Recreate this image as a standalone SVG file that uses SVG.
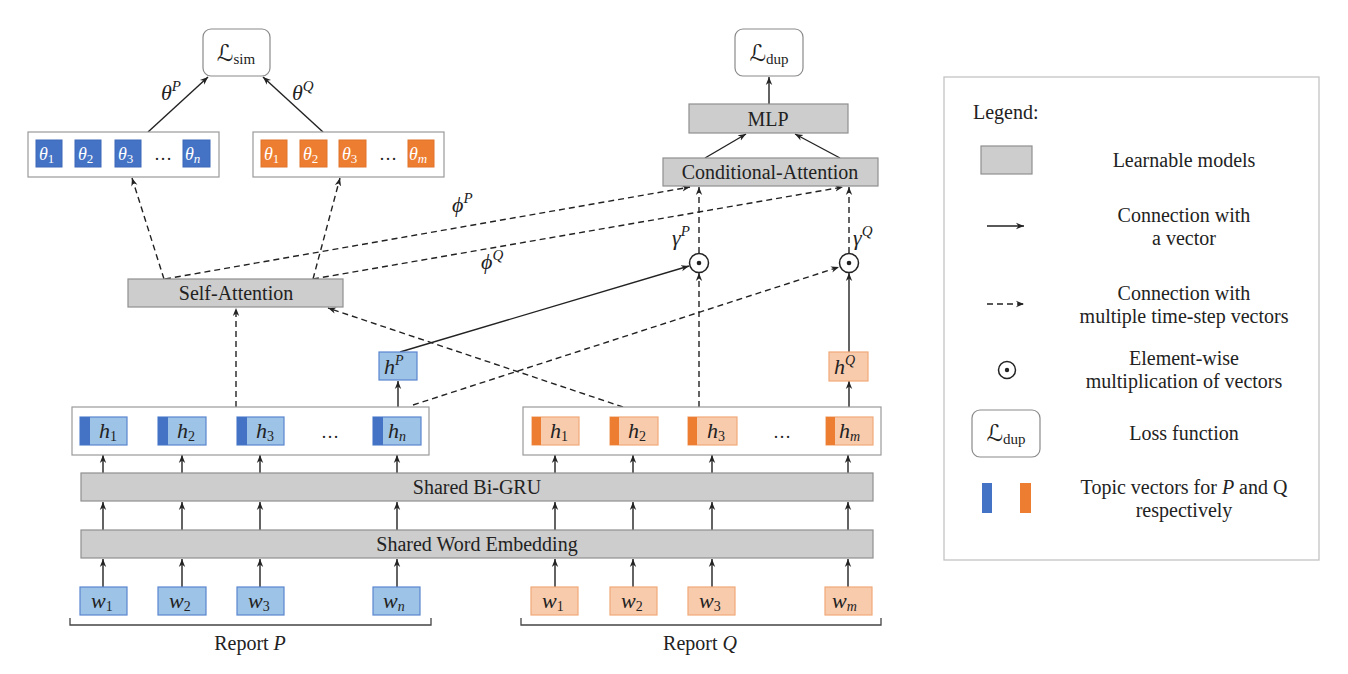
<svg xmlns="http://www.w3.org/2000/svg" width="1348" height="674" viewBox="0 0 1348 674">
<defs>
<marker id="arr" viewBox="0 0 10 10" refX="10" refY="5" markerWidth="8" markerHeight="8" markerUnits="userSpaceOnUse" orient="auto">
<path d="M0,1 L10,5 L0,9 L3,5 z" fill="#222"/>
</marker>
</defs>
<style>
text{font-family:"Liberation Serif","Times New Roman",serif;fill:#222;}
.t{font-size:20px;}
.c{text-anchor:middle;}
.m{font-style:italic;}
.cal{font-family:"DejaVu Serif","DejaVu Sans",serif;font-style:normal;}
.gray{fill:#cdcdcd;stroke:#8f8f8f;stroke-width:1.2;}
.row{fill:#fff;stroke:#9a9a9a;stroke-width:1.2;}
.loss{fill:#fff;stroke:#8a8a8a;stroke-width:1.2;}
.tb{fill:#4472c4;stroke:#3d68b8;}
.to{fill:#ed7d31;stroke:#e0742c;}
.lb{fill:#9dc3e6;stroke:#5a86cf;stroke-width:1.2;}
.lo{fill:#f8cbad;stroke:#f1a878;stroke-width:1.2;}
.sb{fill:#4472c4;}
.so{fill:#ed7d31;}
.ln{stroke:#222;stroke-width:1.4;fill:none;}
.ds{stroke:#222;stroke-width:1.4;fill:none;stroke-dasharray:6 4;}
.odot{fill:#fff;stroke:#222;stroke-width:1.5;}
.wh{fill:#fff;}
</style>

<!-- connectors -->
<g id="connectors">
<line class="ln" x1="148" y1="132" x2="208" y2="77" marker-end="url(#arr)"/>
<line class="ln" x1="323" y1="132" x2="263" y2="77" marker-end="url(#arr)"/>
<line class="ln" x1="769" y1="104" x2="769" y2="77" marker-end="url(#arr)"/>
<line class="ln" x1="705" y1="158" x2="746" y2="134" marker-end="url(#arr)"/>
<line class="ln" x1="840" y1="158" x2="795" y2="134" marker-end="url(#arr)"/>
<line class="ds" x1="164" y1="279" x2="132" y2="178" marker-end="url(#arr)"/>
<line class="ds" x1="313" y1="279" x2="340" y2="178" marker-end="url(#arr)"/>
<line class="ds" x1="165" y1="279" x2="690" y2="187" marker-end="url(#arr)"/>
<line class="ds" x1="313" y1="279" x2="843" y2="187" marker-end="url(#arr)"/>
<line class="ds" x1="699" y1="253" x2="699" y2="187" marker-end="url(#arr)"/>
<line class="ds" x1="849" y1="253" x2="849" y2="187" marker-end="url(#arr)"/>
<line class="ds" x1="699" y1="407" x2="699" y2="273" marker-end="url(#arr)"/>
<line class="ln" x1="849" y1="352" x2="849" y2="273" marker-end="url(#arr)"/>
<line class="ln" x1="400" y1="352" x2="689" y2="266" marker-end="url(#arr)"/>
<line class="ds" x1="413" y1="405" x2="839" y2="267" marker-end="url(#arr)"/>
<line class="ds" x1="623" y1="407" x2="328" y2="308" marker-end="url(#arr)"/>
<line class="ds" x1="236" y1="407" x2="236" y2="308" marker-end="url(#arr)"/>
<line class="ln" x1="398" y1="407" x2="398" y2="381" marker-end="url(#arr)"/>
<line class="ln" x1="849" y1="407" x2="849" y2="381" marker-end="url(#arr)"/>
<line class="ln" x1="103" y1="473" x2="103" y2="455" marker-end="url(#arr)"/>
<line class="ln" x1="182" y1="473" x2="182" y2="455" marker-end="url(#arr)"/>
<line class="ln" x1="260" y1="473" x2="260" y2="455" marker-end="url(#arr)"/>
<line class="ln" x1="397" y1="473" x2="397" y2="455" marker-end="url(#arr)"/>
<line class="ln" x1="555" y1="473" x2="555" y2="455" marker-end="url(#arr)"/>
<line class="ln" x1="633" y1="473" x2="633" y2="455" marker-end="url(#arr)"/>
<line class="ln" x1="712" y1="473" x2="712" y2="455" marker-end="url(#arr)"/>
<line class="ln" x1="848" y1="473" x2="848" y2="455" marker-end="url(#arr)"/>
<line class="ln" x1="103" y1="530" x2="103" y2="502" marker-end="url(#arr)"/>
<line class="ln" x1="182" y1="530" x2="182" y2="502" marker-end="url(#arr)"/>
<line class="ln" x1="260" y1="530" x2="260" y2="502" marker-end="url(#arr)"/>
<line class="ln" x1="397" y1="530" x2="397" y2="502" marker-end="url(#arr)"/>
<line class="ln" x1="555" y1="530" x2="555" y2="502" marker-end="url(#arr)"/>
<line class="ln" x1="633" y1="530" x2="633" y2="502" marker-end="url(#arr)"/>
<line class="ln" x1="712" y1="530" x2="712" y2="502" marker-end="url(#arr)"/>
<line class="ln" x1="848" y1="530" x2="848" y2="502" marker-end="url(#arr)"/>
<line class="ln" x1="103" y1="587" x2="103" y2="559" marker-end="url(#arr)"/>
<line class="ln" x1="182" y1="587" x2="182" y2="559" marker-end="url(#arr)"/>
<line class="ln" x1="260" y1="587" x2="260" y2="559" marker-end="url(#arr)"/>
<line class="ln" x1="397" y1="587" x2="397" y2="559" marker-end="url(#arr)"/>
<line class="ln" x1="555" y1="587" x2="555" y2="559" marker-end="url(#arr)"/>
<line class="ln" x1="633" y1="587" x2="633" y2="559" marker-end="url(#arr)"/>
<line class="ln" x1="712" y1="587" x2="712" y2="559" marker-end="url(#arr)"/>
<line class="ln" x1="848" y1="587" x2="848" y2="559" marker-end="url(#arr)"/>
</g>

<!-- connector labels -->
<g id="labels">
<text class="m" x="161" y="100" font-size="22">θ<tspan font-size="15" dy="-9">P</tspan></text>
<text class="m" x="292" y="100" font-size="22">θ<tspan font-size="15" dy="-9">Q</tspan></text>
<text class="m" x="452" y="212" font-size="22">ϕ<tspan font-size="15" dy="-9">P</tspan></text>
<text class="m" x="481" y="269" font-size="22">ϕ<tspan font-size="15" dy="-9">Q</tspan></text>
<text class="m" x="672" y="245" font-size="22">γ<tspan font-size="15" dy="-9">P</tspan></text>
<text class="m" x="853" y="245" font-size="22">γ<tspan font-size="15" dy="-9">Q</tspan></text>
</g>

<g id="Lsim">
<rect class="loss" x="203" y="29" width="67" height="47" rx="8"/>
<text x="236" y="61" class="c"><tspan class="cal" font-size="23">ℒ</tspan><tspan font-size="15" dy="3">sim</tspan></text>
</g>
<g id="Ldup">
<rect class="loss" x="735" y="29" width="68" height="47" rx="8"/>
<text x="769" y="61" class="c"><tspan class="cal" font-size="23">ℒ</tspan><tspan font-size="15" dy="3">dup</tspan></text>
</g>

<g id="thetaP">
<rect class="row" x="28" y="132" width="191" height="45"/>
<rect class="tb" x="36" y="140" width="26" height="27"/>
<rect class="tb" x="75" y="140" width="26" height="27"/>
<rect class="tb" x="115" y="140" width="26" height="27"/>
<rect class="tb" x="183" y="140" width="27" height="27"/>
<text class="m wh" x="39" y="160" font-size="18">θ<tspan font-size="13" dy="3" font-style="normal">1</tspan></text>
<text class="m wh" x="78" y="160" font-size="18">θ<tspan font-size="13" dy="3" font-style="normal">2</tspan></text>
<text class="m wh" x="118" y="160" font-size="18">θ<tspan font-size="13" dy="3" font-style="normal">3</tspan></text>
<text x="163" y="160" class="c" font-size="18">…</text>
<text class="m wh" x="185" y="160" font-size="18">θ<tspan font-size="13" dy="3">n</tspan></text>
</g>
<g id="thetaQ">
<rect class="row" x="253" y="132" width="191" height="45"/>
<rect class="to" x="261" y="140" width="26" height="27"/>
<rect class="to" x="300" y="140" width="27" height="27"/>
<rect class="to" x="339" y="140" width="27" height="27"/>
<rect class="to" x="408" y="140" width="26" height="27"/>
<text class="m wh" x="264" y="160" font-size="18">θ<tspan font-size="13" dy="3" font-style="normal">1</tspan></text>
<text class="m wh" x="303" y="160" font-size="18">θ<tspan font-size="13" dy="3" font-style="normal">2</tspan></text>
<text class="m wh" x="342" y="160" font-size="18">θ<tspan font-size="13" dy="3" font-style="normal">3</tspan></text>
<text x="388" y="160" class="c" font-size="18">…</text>
<text class="m wh" x="409" y="160" font-size="18">θ<tspan font-size="13" dy="3">m</tspan></text>
</g>

<g id="MLP">
<rect class="gray" x="689" y="104" width="159" height="29"/>
<text class="t c" x="768" y="126">MLP</text>
</g>
<g id="CondAttention">
<rect class="gray" x="663" y="158" width="215" height="28"/>
<text class="t c" x="770" y="179">Conditional-Attention</text>
</g>
<g id="SelfAttention">
<rect class="gray" x="128" y="279" width="215" height="28"/>
<text class="t c" x="236" y="300">Self-Attention</text>
</g>

<g id="odotP">
<circle class="odot" cx="699" cy="263" r="9.5"/>
<circle cx="699" cy="263" r="2.3" fill="#222"/>
</g>
<g id="odotQ">
<circle class="odot" cx="849" cy="263" r="9.5"/>
<circle cx="849" cy="263" r="2.3" fill="#222"/>
</g>

<g id="hP">
<rect class="lb" x="379" y="352" width="38" height="28"/>
<text class="m" x="384" y="374" font-size="22">h<tspan font-size="14" dy="-9">P</tspan></text>
</g>
<g id="hQ">
<rect class="lo" x="829" y="352" width="39" height="29"/>
<text class="m" x="834" y="374" font-size="22">h<tspan font-size="14" dy="-9">Q</tspan></text>
</g>

<g id="hRowP">
<rect class="row" x="72" y="407" width="357" height="48"/>
<rect class="lb" x="80" y="417" width="47" height="28"/><rect class="sb" x="80" y="417" width="10" height="28"/>
<rect class="lb" x="158" y="417" width="48" height="28"/><rect class="sb" x="158" y="417" width="10" height="28"/>
<rect class="lb" x="237" y="417" width="47" height="28"/><rect class="sb" x="237" y="417" width="10" height="28"/>
<rect class="lb" x="373" y="417" width="48" height="28"/><rect class="sb" x="373" y="417" width="10" height="28"/>
<text class="m" x="99" y="438" font-size="22">h<tspan font-size="14" dy="3" font-style="normal">1</tspan></text>
<text class="m" x="177" y="438" font-size="22">h<tspan font-size="14" dy="3" font-style="normal">2</tspan></text>
<text class="m" x="256" y="438" font-size="22">h<tspan font-size="14" dy="3" font-style="normal">3</tspan></text>
<text x="330" y="438" class="c" font-size="18">…</text>
<text class="m" x="388" y="438" font-size="22">h<tspan font-size="14" dy="3">n</tspan></text>
</g>
<g id="hRowQ">
<rect class="row" x="523" y="407" width="358" height="48"/>
<rect class="lo" x="532" y="417" width="47" height="28"/><rect class="so" x="532" y="417" width="9" height="28"/>
<rect class="lo" x="610" y="417" width="48" height="28"/><rect class="so" x="610" y="417" width="9" height="28"/>
<rect class="lo" x="688" y="417" width="49" height="28"/><rect class="so" x="688" y="417" width="9" height="28"/>
<rect class="lo" x="826" y="417" width="47" height="28"/><rect class="so" x="826" y="417" width="9" height="28"/>
<text class="m" x="550" y="438" font-size="22">h<tspan font-size="14" dy="3" font-style="normal">1</tspan></text>
<text class="m" x="628" y="438" font-size="22">h<tspan font-size="14" dy="3" font-style="normal">2</tspan></text>
<text class="m" x="707" y="438" font-size="22">h<tspan font-size="14" dy="3" font-style="normal">3</tspan></text>
<text x="782" y="438" class="c" font-size="18">…</text>
<text class="m" x="839" y="438" font-size="22">h<tspan font-size="14" dy="3">m</tspan></text>
</g>

<g id="BiGRU">
<rect class="gray" x="81" y="473" width="792" height="28"/>
<text class="t c" x="477" y="494">Shared Bi-GRU</text>
</g>
<g id="WordEmbedding">
<rect class="gray" x="81" y="530" width="792" height="28"/>
<text class="t c" x="477" y="551">Shared Word Embedding</text>
</g>

<g id="wP">
<rect class="lb" x="80" y="587" width="47" height="28"/>
<rect class="lb" x="158" y="587" width="48" height="28"/>
<rect class="lb" x="237" y="587" width="47" height="28"/>
<rect class="lb" x="373" y="587" width="47" height="28"/>
<text class="m" x="91" y="608" font-size="22">w<tspan font-size="14" dy="3" font-style="normal">1</tspan></text>
<text class="m" x="169" y="608" font-size="22">w<tspan font-size="14" dy="3" font-style="normal">2</tspan></text>
<text class="m" x="248" y="608" font-size="22">w<tspan font-size="14" dy="3" font-style="normal">3</tspan></text>
<text class="m" x="383" y="608" font-size="22">w<tspan font-size="14" dy="3">n</tspan></text>
</g>
<g id="wQ">
<rect class="lo" x="531" y="587" width="47" height="28"/>
<rect class="lo" x="610" y="587" width="47" height="28"/>
<rect class="lo" x="688" y="587" width="47" height="28"/>
<rect class="lo" x="825" y="587" width="47" height="28"/>
<text class="m" x="542" y="608" font-size="22">w<tspan font-size="14" dy="3" font-style="normal">1</tspan></text>
<text class="m" x="621" y="608" font-size="22">w<tspan font-size="14" dy="3" font-style="normal">2</tspan></text>
<text class="m" x="699" y="608" font-size="22">w<tspan font-size="14" dy="3" font-style="normal">3</tspan></text>
<text class="m" x="832" y="608" font-size="22">w<tspan font-size="14" dy="3">m</tspan></text>
</g>

<g id="reportP">
<path d="M70,618 L70,625 L431,625 L431,618" fill="none" stroke="#444" stroke-width="1.3"/>
<text class="t c" x="250" y="650">Report <tspan class="m">P</tspan></text>
</g>
<g id="reportQ">
<path d="M521,618 L521,625 L881,625 L881,618" fill="none" stroke="#444" stroke-width="1.3"/>
<text class="t c" x="700" y="650">Report <tspan class="m">Q</tspan></text>
</g>

<g id="legend">
<rect x="944" y="77" width="375" height="483" fill="#fff" stroke="#c4c4c4" stroke-width="1.3"/>
<text class="t" x="973" y="119">Legend:</text>
<rect class="gray" x="981" y="146" width="51" height="28"/>
<text class="t c" x="1184" y="167">Learnable models</text>
<line class="ln" x1="987" y1="226" x2="1024" y2="226" marker-end="url(#arr)"/>
<text class="t c" x="1184" y="222">Connection with</text>
<text class="t c" x="1184" y="245">a vector</text>
<line class="ds" x1="987" y1="304" x2="1024" y2="304" stroke-dasharray="4 3" marker-end="url(#arr)"/>
<text class="t c" x="1184" y="300">Connection with</text>
<text class="t c" x="1184" y="323">multiple time-step vectors</text>
<circle class="odot" cx="1007" cy="370" r="8.5"/>
<circle cx="1007" cy="370" r="2.2" fill="#222"/>
<text class="t c" x="1184" y="365">Element-wise</text>
<text class="t c" x="1184" y="388">multiplication of vectors</text>
<rect class="loss" x="972" y="410" width="68" height="47" rx="8"/>
<text x="1006" y="441" class="c"><tspan class="cal" font-size="23">ℒ</tspan><tspan font-size="15" dy="3">dup</tspan></text>
<text class="t c" x="1184" y="440">Loss function</text>
<rect class="sb" x="982" y="483" width="10" height="30"/>
<rect class="so" x="1020" y="483" width="11" height="30"/>
<text class="t c" x="1184" y="494">Topic vectors for <tspan class="m">P</tspan> and Q</text>
<text class="t c" x="1184" y="517">respectively</text>
</g>
</svg>
